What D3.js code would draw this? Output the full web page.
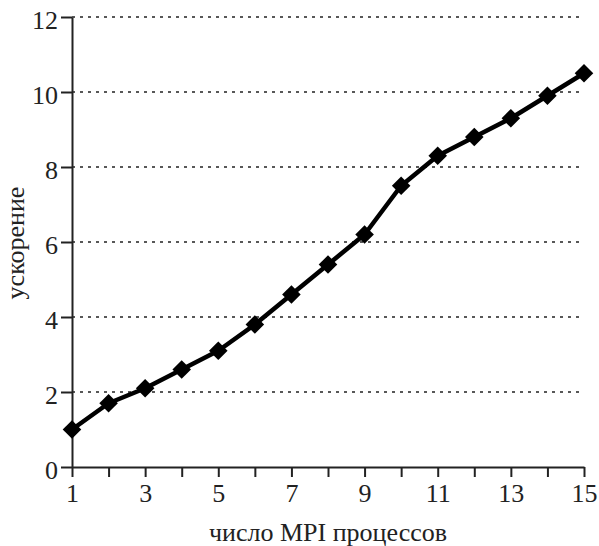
<!DOCTYPE html>
<html><head><meta charset="utf-8">
<script src="https://cdn.jsdelivr.net/npm/d3@7"></script>
<style>body{margin:0;background:#fff}svg{display:block}</style>
</head><body>
<script>
const procs = [1,2,3,4,5,6,7,8,9,10,11,12,13,14,15];
const speedup = [1.0,1.7,2.1,2.6,3.1,3.8,4.6,5.4,6.2,7.5,8.3,8.8,9.3,9.9,10.5];
const xTickLabels = [1,3,5,7,9,11,13,15];
const yTickLabels = [0,2,4,6,8,10,12];
const xTitle = "число MPI процессов";
const yTitle = "ускорение";

const W = 599, H = 546;
const m = {left:72, right:15, top:17, bottom:79};
const svg = d3.select("body").append("svg").attr("width",W).attr("height",H);
const x = d3.scaleLinear().domain([1,15]).range([m.left, W-m.right]);
const y = d3.scaleLinear().domain([0,12]).range([H-m.bottom, m.top]);
const font = "'Liberation Serif', 'Times New Roman', serif";
const fs = 26;

// grid
svg.append("g").selectAll("line").data(yTickLabels.filter(d=>d>0)).join("line")
  .attr("x1", x(1)).attr("x2", x(15)).attr("y1", d=>y(d)).attr("y2", d=>y(d))
  .attr("stroke","#222").attr("stroke-width",1.6).attr("stroke-dasharray","3,5");

// x axis
const gx = svg.append("g").attr("transform",`translate(0,${y(0)})`)
  .call(d3.axisBottom(x).tickValues(procs).tickSize(10).tickSizeOuter(0)
    .tickFormat(d=>xTickLabels.includes(d)?d:""));
gx.attr("font-family",font).attr("font-size",fs);
gx.select(".domain").attr("stroke","#222").attr("stroke-width",2);
gx.selectAll(".tick line").attr("stroke","#222").attr("stroke-width",2);
gx.selectAll(".tick text").style("font-family",font).attr("fill","#222").attr("y",17).attr("dy","0.71em");

// y axis
const gy = svg.append("g").attr("transform",`translate(${x(1)},0)`)
  .call(d3.axisLeft(y).tickValues(yTickLabels).tickSize(11).tickSizeOuter(0));
gy.attr("font-family",font).attr("font-size",fs);
gy.select(".domain").attr("stroke","#222").attr("stroke-width",2);
gy.selectAll(".tick line").attr("stroke","#222").attr("stroke-width",2);
gy.selectAll(".tick text").style("font-family",font).attr("fill","#222").attr("x",-14).attr("dy","0.45em");

// line
svg.append("path").datum(procs.map((p,i)=>[p,speedup[i]]))
  .attr("fill","none").attr("stroke","#000").attr("stroke-width",4.5).attr("stroke-linejoin","round")
  .attr("d", d3.line().x(d=>x(d[0])).y(d=>y(d[1])));

// markers
svg.append("g").selectAll("path").data(procs.map((p,i)=>[p,speedup[i]])).join("path")
  .attr("transform", d=>`translate(${x(d[0])},${y(d[1])})`)
  .attr("d", d3.symbol(d3.symbolDiamond2, 220)())
  .attr("fill","#000");

// titles
svg.append("text").attr("x",(x(1)+x(15))/2).attr("y",541)
  .attr("text-anchor","middle").attr("font-family",font).attr("font-size",fs).attr("fill","#222").text(xTitle);
svg.append("text").attr("transform",`translate(24,243) rotate(-90)`)
  .attr("text-anchor","middle").attr("font-family",font).attr("font-size",fs).attr("fill","#222").text(yTitle);
</script>
</body></html>
